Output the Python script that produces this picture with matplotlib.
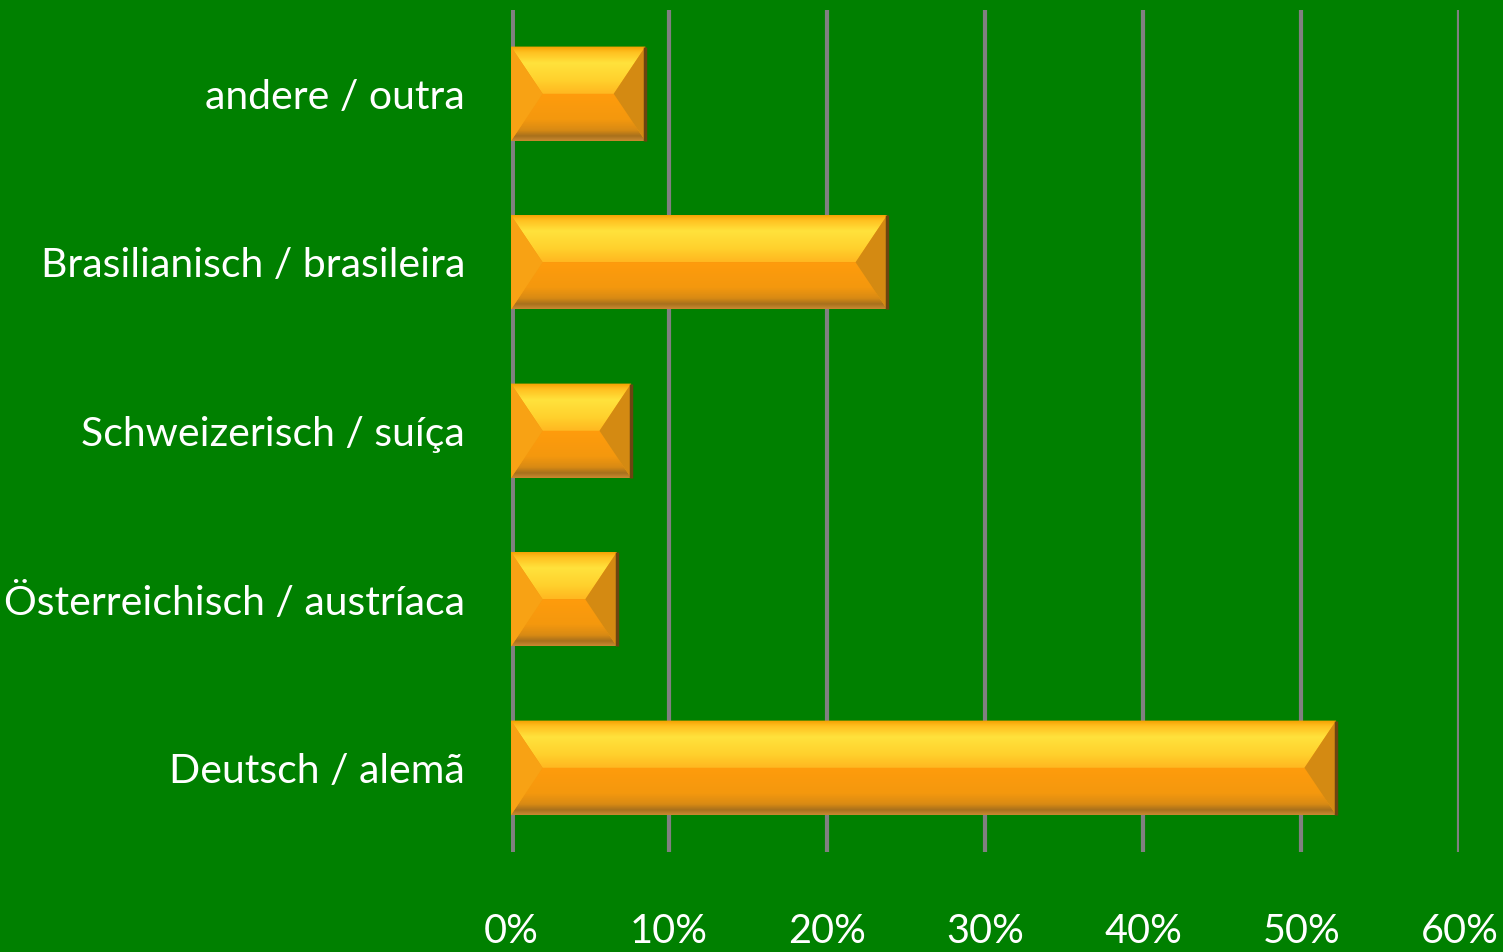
import numpy as np
import matplotlib
matplotlib.use("Agg")
import matplotlib.pyplot as plt
from matplotlib.patches import Polygon
from matplotlib.colors import LinearSegmentedColormap
from matplotlib.ticker import PercentFormatter

# data (bottom to top)
categories = ["Deutsch / alemã", "Österreichisch / austríaca",
              "Schweizerisch / suíça", "Brasilianisch / brasileira",
              "andere / outra"]
shares = [52.2, 6.7, 7.6, 23.8, 8.5]
xticks = [0, 10, 20, 30, 40, 50, 60]

BG = "#008000"
GRID = "#808080"
BAR_H = 0.56
BEVEL_X = 2.0       # bevel inset along x, in % units

top_cmap = LinearSegmentedColormap.from_list(
    "top", [(0, "#F5A000"), (0.12, "#FFC020"), (0.35, "#FFE23C"),
            (0.7, "#FFD22E"), (1, "#FFB820")])
bot_cmap = LinearSegmentedColormap.from_list(
    "bot", [(0, "#FF9C0C"), (0.55, "#F4980E"), (0.78, "#D88A14"),
            (0.9, "#A8701C"), (1, "#C88830")])

plt.rcParams["font.family"] = ["Lato", "DejaVu Sans"]

fig = plt.figure(figsize=(15.03, 9.52), dpi=100, facecolor=BG)
ax = fig.add_axes([0.340, 0.105, 0.631, 0.885], facecolor=BG)

y = np.arange(len(categories))
bars = ax.barh(y, shares, height=BAR_H, color="#F59A10", zorder=2)

for b in bars:
    x0, y0 = b.get_x(), b.get_y()
    w, h = b.get_width(), b.get_height()
    x1, y1 = x0 + w, y0 + h
    ym = y0 + h / 2
    d = min(BEVEL_X, w / 2)
    grad = np.linspace(0, 1, 64).reshape(-1, 1)
    # lower face (gradient)
    lower = Polygon([(x0, y0), (x1, y0), (x1 - d, ym), (x0 + d, ym)],
                    closed=True, fc="none", ec="none")
    ax.add_patch(lower)
    im = ax.imshow(grad, cmap=bot_cmap, aspect="auto", origin="upper",
                   extent=(x0, x1, y0, ym), zorder=3, interpolation="bilinear")
    im.set_clip_path(lower)
    # upper face (bright gradient)
    upper = Polygon([(x0, y1), (x1, y1), (x1 - d, ym), (x0 + d, ym)],
                    closed=True, fc="none", ec="none")
    ax.add_patch(upper)
    im2 = ax.imshow(grad, cmap=top_cmap, aspect="auto", origin="upper",
                    extent=(x0, x1, ym, y1), zorder=3, interpolation="bilinear")
    im2.set_clip_path(upper)
    # side faces
    ax.add_patch(Polygon([(x0, y0), (x0 + d, ym), (x0, y1)], closed=True,
                         fc="#F8A214", ec="none", zorder=4))
    ax.add_patch(Polygon([(x1, y0), (x1 - d, ym), (x1, y1)], closed=True,
                         fc="#D48A12", ec="none", zorder=4))
    # dark right edge
    ax.plot([x1, x1], [y0, y1], color="#6A4410", lw=2.5, zorder=5,
            solid_capstyle="butt")

ax.set_xlim(0, 60)
ax.set_ylim(-0.5, len(categories) - 0.5)
ax.set_xticks(xticks)
ax.xaxis.set_major_formatter(PercentFormatter(decimals=0))
ax.set_yticks(y)
ax.set_yticklabels(categories)

ax.grid(axis="x", color=GRID, lw=3, zorder=0)
ax.set_axisbelow(True)
for s in ax.spines.values():
    s.set_visible(False)
ax.axvline(0, color=GRID, lw=5, zorder=1)

ax.tick_params(axis="x", length=0, pad=44, labelsize=28.5, labelcolor="white")
ax.tick_params(axis="y", length=0, pad=33, labelsize=29.5, labelcolor="white")

fig.savefig("out.png", dpi=100, facecolor=BG)
